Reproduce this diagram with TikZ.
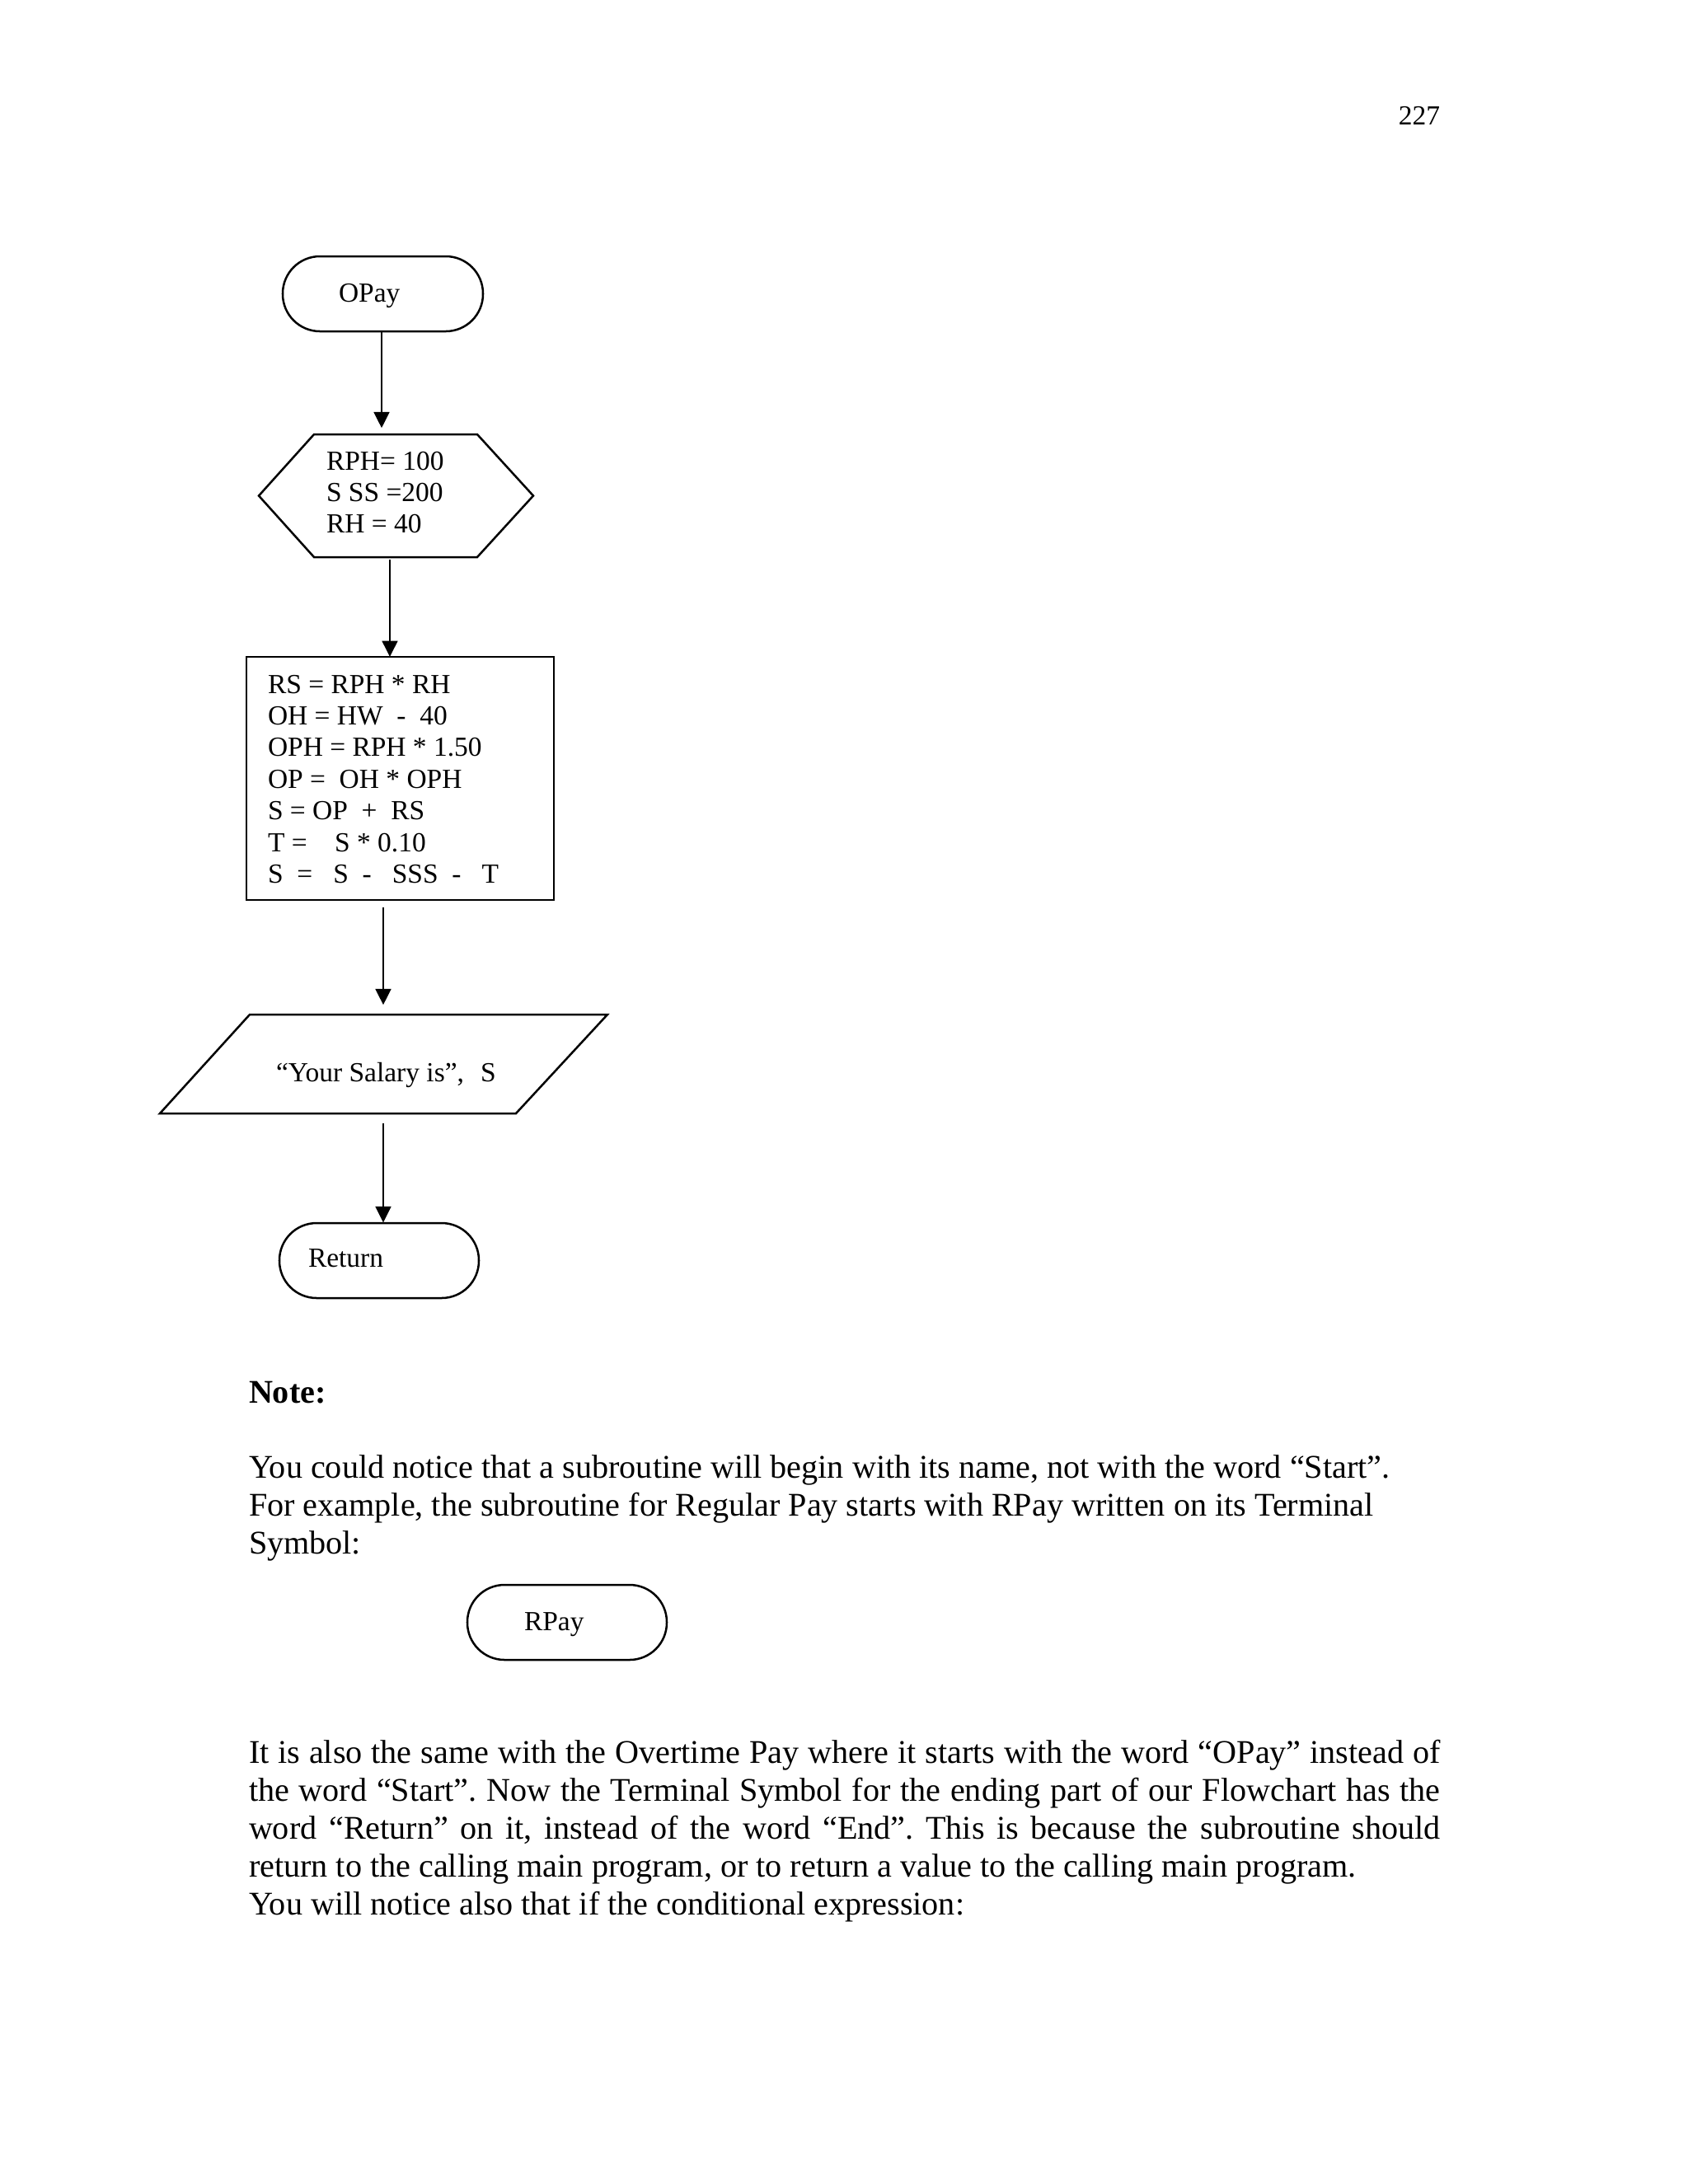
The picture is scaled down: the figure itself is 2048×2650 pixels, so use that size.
\documentclass[tikz,border=0pt]{standalone}
\usepackage{fontspec}
\setmainfont{Liberation Serif}
\usetikzlibrary{arrows.meta,calc}
\frenchspacing
\begin{document}
\begin{tikzpicture}[x=0.29883pt,y=-0.29883pt,
  every node/.style={inner sep=0pt, outer sep=0pt},
  outline/.style={draw=black, line width=0.75pt, line join=miter},
  shapebox/.style 2 args={minimum width=#1*0.29883pt, minimum height=#2*0.29883pt},
  terminal/.style={draw=black, line width=0.75pt, rounded corners=13.5pt, shapebox={242}{91}},
  flowtext/.style={font=\fontsize{10}{11.5}\selectfont, anchor=base west},
  bodytext/.style={font=\fontsize{12}{13.75}\selectfont, anchor=base west},
  flowarrow/.style={line width=0.75pt, -{Triangle[length=5.8pt,width=5.6pt]}}]
\useasboundingbox[fill=white] (0,0) rectangle (2048,2650);

% page number
\node[font=\fontsize{10}{11.5}\selectfont, anchor=base east] (pagenum) at (1747,151) {227};

% OPay terminal
\node[terminal, minimum width=243*0.29883pt] (opay) at (464.5,356.5) {};
\node[flowtext] (opayt) at (411,366) {OPay};

% preparation hexagon
\node[shapebox={333}{149}] (hex) at (480.5,601.5) {};
\draw[outline] (hex.west) -- ($(hex.north west)+(67,0)$) -- ($(hex.north east)+(-68,0)$)
  -- (hex.east) -- ($(hex.south east)+(-68,0)$) -- ($(hex.south west)+(67,0)$) -- cycle;
\node[flowtext] (hext) at (396,570) {\parbox[t]{150pt}{RPH= 100\\S SS =200\\RH = 40}};

% process box
\node[outline, shapebox={373}{295}] (proc) at (485.5,944.5) {};
\node[flowtext] (proct) at (325,841) {\parbox[t]{200pt}{RS = RPH * RH\\
OH = HW\ \ -\ \ 40\\
OPH = RPH * 1.50\\
OP =\ \ OH * OPH\\
S = OP\ \ +\ \ RS\\
T =\ \ \ \ S * 0.10\\
S\ \ =\ \ \ S\ \ -\ \ \ SSS\ \ -\ \ \ T}};

% output parallelogram
\node[shapebox={543}{120}] (para) at (465.5,1291) {};
\draw[outline] (para.south west) -- ($(para.north west)+(109,0)$) -- (para.north east)
  -- ($(para.south east)+(-111,0)$) -- cycle;
\node[flowtext] (parat) at (335,1312) {“Your Salary is”,\hspace{6pt}S};

% Return terminal
\node[terminal] (ret) at (460,1529.5) {};
\node[flowtext] (rett) at (374,1537) {Return};

% connectors
\coordinate (c1) at (463,0);
\coordinate (c2) at (473,0);
\coordinate (c3) at (465,0);
\draw[flowarrow, shorten >=2.3pt] (opay.south -| c1) -- (hex.north -| c1);
\draw[flowarrow, shorten <=0.9pt] (hex.south -| c2) -- (proc.north -| c2);
\draw[flowarrow, shorten <=2.7pt, shorten >=3.5pt] (proc.south -| c3) -- (para.north -| c3);
\draw[flowarrow, shorten <=3.6pt, shorten >=0.2pt] (para.south -| c3) -- (ret.north -| c3);

% note text
\node[bodytext, font=\fontsize{12}{13.75}\selectfont\bfseries] (note) at (302,1702) {Note:};
\node[bodytext] (l1) at (302,1793) {You could notice that a subroutine will begin with its name, not with the word “Start”.};
\node[bodytext] (l2) at (302,1839) {For example, the subroutine for Regular Pay starts with RPay written on its Terminal};
\node[bodytext] (l3) at (302,1885) {Symbol:};

% RPay terminal
\node[terminal] (rpay) at (688,1968.5) {};
\node[flowtext] (rpayt) at (636,1978) {RPay};

% second paragraph
\node[bodytext] (m1) at (302,2139) {\makebox[432pt][s]{It is also the same with the Overtime Pay where it starts with the word “OPay” instead of}};
\node[bodytext] (m2) at (302,2185) {\makebox[432pt][s]{the word “Start”. Now the Terminal Symbol for the ending part of our Flowchart has the}};
\node[bodytext] (m3) at (302,2231) {\makebox[432pt][s]{word “Return” on it, instead of the word “End”. This is because the subroutine should}};
\node[bodytext] (m4) at (302,2277) {return to the calling main program, or to return a value to the calling main program.};
\node[bodytext] (m5) at (302,2323) {You will notice also that if the conditional expression:};
\end{tikzpicture}
\end{document}
